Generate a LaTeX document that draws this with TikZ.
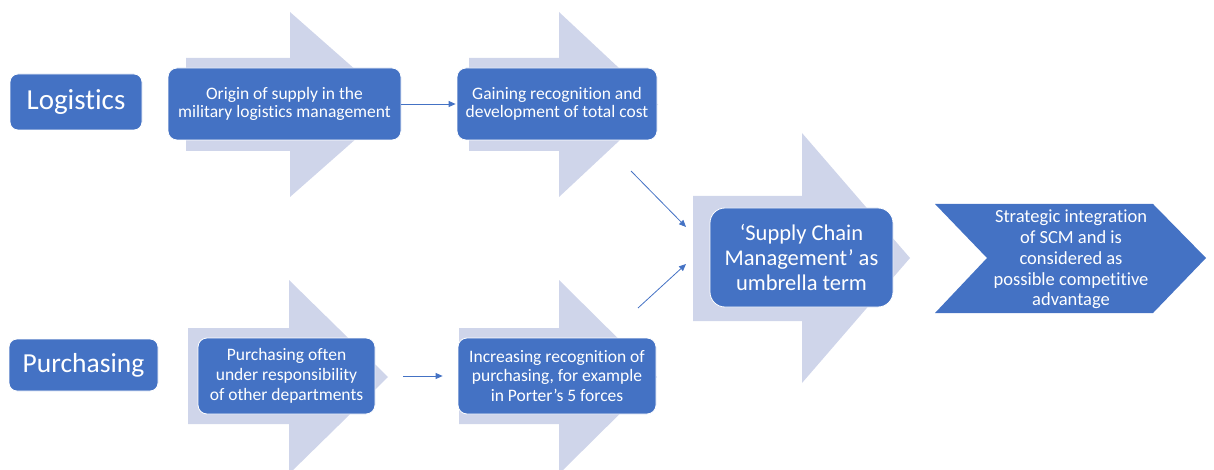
\documentclass[tikz,border=0pt]{standalone}
\usepackage{fontspec}
\setmainfont{Carlito}[Ligatures={NoCommon,NoContextual,NoRare}, Contextuals=NoAlternate]
\usetikzlibrary{arrows.meta}
\definecolor{obl}{HTML}{4472C4}
\definecolor{lav}{HTML}{CFD5EA}
\tikzset{
  bigarrow/.style={fill=lav, draw=none},
  bluebox/.style={fill=obl, draw=white, line width=0.8pt, rounded corners=9pt,
    text=white, align=center, inner sep=0pt},
  smalltext/.style={font=\fontsize{17.5}{19.8}\selectfont},
  conn/.style={draw=obl, line width=0.8pt, -{Triangle[length=7pt,width=6pt]}},
}
\begin{document}
\begin{tikzpicture}[x=1pt,y=-1pt]
\useasboundingbox (0,0) rectangle (1214,470);
% background light arrows
\fill[bigarrow] (186,58) -- (290,58) -- (290,12) -- (395,104.5) -- (290,197) -- (290,151) -- (186,151) -- cycle;
\fill[bigarrow] (469,58) -- (559,58) -- (559,12) -- (658,104.5) -- (559,197) -- (559,151) -- (469,151) -- cycle;
\begin{scope}
\clip (0,0) rectangle (1214,470);
\fill[bigarrow] (188,328) -- (289,328) -- (289,280) -- (388,377) -- (289,474) -- (289,424) -- (188,424) -- cycle;
\fill[bigarrow] (459,328) -- (559,328) -- (559,280) -- (657,377) -- (559,474) -- (559,424) -- (459,424) -- cycle;
\end{scope}
\fill[bigarrow] (693,196) -- (802,196) -- (802,133) -- (910,258) -- (802,383) -- (802,321) -- (693,321) -- cycle;
% label boxes
\node[bluebox, rounded corners=8pt, minimum width=132pt, minimum height=56pt,
  font=\fontsize{29}{34}\selectfont] (log) at (76,102) {Logistics};
\node[bluebox, rounded corners=8pt, minimum width=149pt, minimum height=52pt,
  font=\fontsize{27.5}{32}\selectfont] (pur) at (83.5,365) {Purchasing};
% stage boxes
\node[bluebox, smalltext, minimum width=233pt, minimum height=72pt] (orig) at (284.5,104)
  {\raisebox{-2pt}{\shortstack{Origin of supply in the\\military logistics management}}};
\node[bluebox, smalltext, minimum width=200pt, minimum height=72pt] (gain) at (557,104)
  {\raisebox{-2pt}{\shortstack{Gaining recognition and\\development of total cost}}};
\node[bluebox, smalltext, minimum width=177pt, minimum height=76pt] (often) at (286.5,376)
  {Purchasing often\\under responsibility\\of other departments};
\node[bluebox, smalltext, minimum width=198pt, minimum height=76pt] (inc) at (557,376)
  {Increasing recognition of\\purchasing, for example\\in Porter’s 5 forces};
\node[bluebox, rounded corners=15pt, minimum width=183pt, minimum height=99pt,
  font=\fontsize{22.5}{24.7}\selectfont] (scm) at (801.5,257.5)
  {‘Supply Chain\\Management’ as\\umbrella term};
% chevron
\fill[obl] (935,204) -- (1153,204) -- (1206,258) -- (1153,313) -- (935,313) -- (987,258) -- cycle;
\node[text=white, align=center, inner sep=0pt, font=\fontsize{18.5}{20.8}\selectfont] (strat) at (1071,259.5)
  {Strategic integration\\of SCM and is\\considered as\\possible competitive\\advantage};
% connectors
\coordinate (d1s) at (631,171);
\coordinate (d1e) at (686,227);
\coordinate (d2s) at (638,308);
\coordinate (d2e) at (686,264);
\draw[conn, shorten >=1pt] (orig.east) -- (gain.west);
\draw[conn, shorten <=28pt, shorten >=15pt] (often.east) -- (inc.west);
\draw[conn] (d1s) -- (d1e);
\draw[conn] (d2s) -- (d2e);
\end{tikzpicture}
\end{document}
